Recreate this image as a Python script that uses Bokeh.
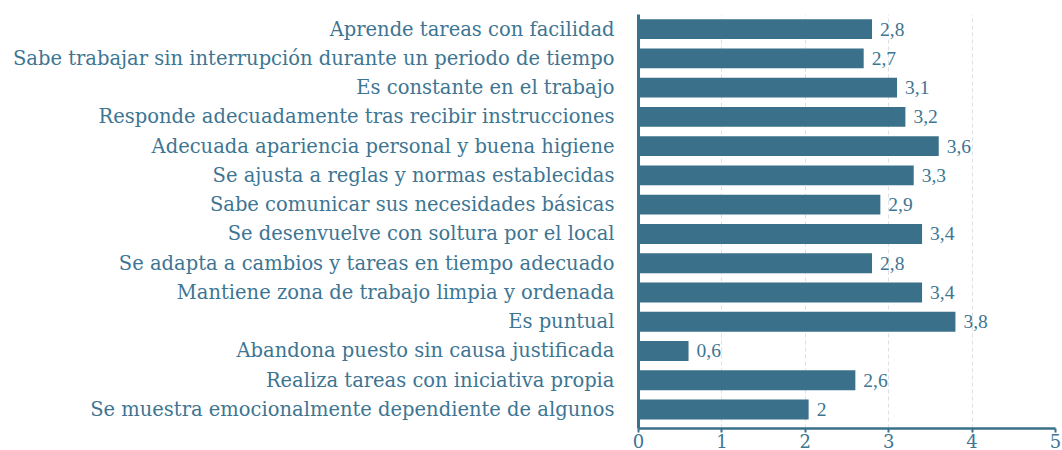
from bokeh.plotting import figure
from bokeh.models import ColumnDataSource, FixedTicker, Range1d, LabelSet
from bokeh.embed import file_html
from bokeh.resources import INLINE

categories = [
    "Aprende tareas con facilidad",
    "Sabe trabajar sin interrupción durante un periodo de tiempo",
    "Es constante en el trabajo",
    "Responde adecuadamente tras recibir instrucciones",
    "Adecuada apariencia personal y buena higiene",
    "Se ajusta a reglas y normas establecidas",
    "Sabe comunicar sus necesidades básicas",
    "Se desenvuelve con soltura por el local",
    "Se adapta a cambios y tareas en tiempo adecuado",
    "Mantiene zona de trabajo limpia y ordenada",
    "Es puntual",
    "Abandona puesto sin causa justificada",
    "Realiza tareas con iniciativa propia",
    "Se muestra emocionalmente dependiente de algunos",
]
values = [2.8, 2.7, 3.1, 3.2, 3.6, 3.3, 2.9, 3.4, 2.8, 3.4, 3.8, 0.6, 2.6, 2.04]
x_ticks = [0, 1, 2, 3, 4, 5]

BAR = "#3A7089"
TXT = "#3D7592"
FONT = "DejaVu Serif"

n = len(categories)
ypos = [n - 1 - i for i in range(n)]


def fmt(v):
    s = f"{v:.1f}"
    if s.endswith(".0"):
        s = s[:-2]
    return s.replace(".", ",")


src = ColumnDataSource(dict(
    y=ypos, v=values, lab=[fmt(v) for v in values], cat=categories,
))

p = figure(width=1062, height=450, output_backend="svg", toolbar_location=None,
           x_range=Range1d(0, 5), y_range=Range1d(-0.65, n - 0.5),
           min_border_left=638, min_border_right=7, min_border_top=14,
           min_border_bottom=0)
p.outline_line_color = None
p.background_fill_color = "white"
p.border_fill_color = "white"

p.hbar(y="y", right="v", left=0, height=0.68, source=src, color=BAR, line_color=None)

labels = LabelSet(x="v", y="y", text="lab", source=src, x_offset=8,
                  text_baseline="middle", text_align="left",
                  text_color=TXT, text_font=FONT, text_font_size="19.5px")
p.add_layout(labels)

p.ygrid.visible = False
p.xgrid.ticker = FixedTicker(ticks=x_ticks)
p.xgrid.grid_line_color = "#dcdfe3"
p.xgrid.grid_line_dash = "4 3"
p.xgrid.grid_line_width = 1

p.xaxis.ticker = FixedTicker(ticks=x_ticks)
p.xaxis.axis_line_color = BAR
p.xaxis.axis_line_width = 2.5
p.xaxis.major_tick_line_color = BAR
p.xaxis.major_tick_line_width = 2
p.xaxis.major_tick_out = 4
p.xaxis.major_tick_in = 0
p.xaxis.minor_tick_line_color = None
p.xaxis.major_label_standoff = 1
p.xaxis.major_label_text_font = FONT
p.xaxis.major_label_text_font_size = "18px"
p.xaxis.major_label_text_color = TXT

p.yaxis.ticker = FixedTicker(ticks=ypos)
p.yaxis.major_label_overrides = {y: c for y, c in zip(ypos, categories)}
p.yaxis.axis_line_color = BAR
p.yaxis.axis_line_width = 3
p.yaxis.major_tick_line_color = None
p.yaxis.minor_tick_line_color = None
p.yaxis.major_label_standoff = 18
p.yaxis.major_label_text_font = FONT
p.yaxis.major_label_text_font_size = "19.5px"
p.yaxis.major_label_text_color = TXT

open("out.html", "w").write(file_html(p, INLINE))
